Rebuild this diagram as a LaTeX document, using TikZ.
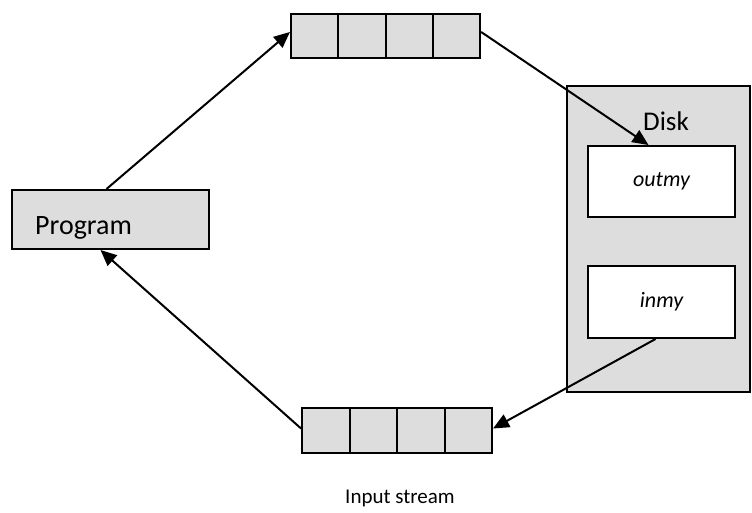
\documentclass[tikz,border=0pt]{standalone}
\usepackage{fontspec}
\setmainfont{Carlito}
\usetikzlibrary{arrows.meta}
\definecolor{boxgray}{HTML}{DDDDDD}
\begin{document}
\begin{tikzpicture}[x=1pt,y=-1pt,
  grayfill/.style={draw=black,line width=2pt,fill=boxgray,inner sep=0pt},
  whitebox/.style={draw=black,line width=2pt,fill=white,inner sep=0pt,minimum width=147pt},
  cell/.style={grayfill,minimum width=47.3pt,minimum height=44pt},
  conn/.style={line width=2pt,-{Triangle[length=16pt,width=14pt]}},
  lbl/.style={inner sep=0pt,font=\fontsize{27}{31}\selectfont}]
\useasboundingbox (0,0) rectangle (752,512);
% Top buffer
\node[cell] (t1) at (314.6,36) {};
\node[cell] (t2) at (361.9,36) {};
\node[cell] (t3) at (409.2,36) {};
\node[cell] (t4) at (456.5,36) {};
% Bottom buffer
\node[cell,minimum width=47.5pt,minimum height=45pt] (b1) at (325.8,430.5) {};
\node[cell,minimum width=47.5pt,minimum height=45pt] (b2) at (373.3,430.5) {};
\node[cell,minimum width=47.5pt,minimum height=45pt] (b3) at (420.8,430.5) {};
\node[cell,minimum width=47.5pt,minimum height=45pt] (b4) at (468.3,430.5) {};
% Disk
\node[grayfill,minimum width=183pt,minimum height=306pt] (disk) at (658.5,239) {};
\node[lbl] (disklbl) at (666,121) {Disk};
\node[whitebox,minimum height=71pt,font=\fontsize{22}{26}\selectfont\itshape] (outmy) at (661.5,181.5) {outmy};
\node[whitebox,minimum height=72pt,font=\fontsize{22}{26}\selectfont\itshape] (inmy) at (661.5,302) {inmy};
% Program
\node[grayfill,minimum width=197pt,minimum height=59pt] (prog) at (110.5,219.5) {};
\node[lbl,anchor=west,font=\fontsize{28}{32}\selectfont] (progtxt) at (35,228) {Program};
% Caption
\node[inner sep=0pt,font=\fontsize{21}{25}\selectfont] (cap) at (400,498) {Input stream};
% Connectors
\draw[conn] ([xshift=-4pt]prog.north) -- ([yshift=4pt]t1.west);
\draw[conn] ([yshift=4pt]t4.east) -- ([xshift=-13pt]outmy.north);
\draw[conn] ([xshift=-6pt]inmy.south) -- ([yshift=2pt]b4.east);
\draw[conn] ([yshift=2pt]b1.west) -- ([xshift=-10pt]prog.south);
\end{tikzpicture}
\end{document}
